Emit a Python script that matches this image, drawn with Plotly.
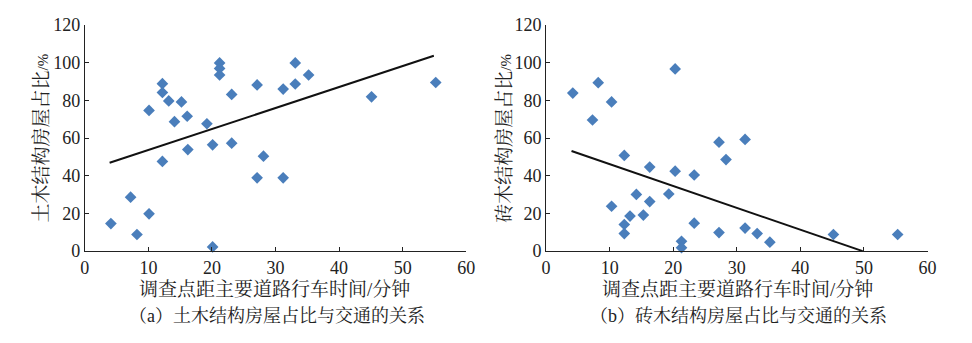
import plotly.graph_objects as go

# Panel (a): 土木结构
a_x = [4.1, 7.2, 8.2, 10.1, 10.1, 12.2, 12.2, 12.2, 13.2, 14.1, 15.2, 16.1, 16.2, 19.2,
       20.1, 20.1, 21.2, 21.2, 21.2, 23.1, 23.1, 27.1, 27.1, 28.1, 31.2, 31.2, 33.1, 33.1,
       35.2, 45.1, 55.2]
a_y = [14.6, 28.6, 8.8, 19.8, 74.7, 88.9, 84.2, 47.6, 79.7, 68.7, 79.2, 71.6, 53.9, 67.6,
       56.4, 2.2, 99.9, 97.0, 93.5, 83.2, 57.3, 88.2, 38.9, 50.4, 86.0, 38.9, 99.9, 88.7,
       93.5, 81.9, 89.5]
a_trend_x = [3.9, 54.9]
a_trend_y = [46.9, 103.7]

# Panel (b): 砖木结构
b_x = [4.2, 7.3, 8.2, 10.3, 10.3, 12.3, 12.3, 12.3, 13.2, 14.2, 15.3, 16.3, 16.3, 19.3,
       20.3, 20.3, 21.3, 21.3, 21.3, 23.3, 23.3, 27.2, 27.2, 28.3, 31.3, 31.3, 33.2, 33.2,
       35.2, 45.2, 55.3]
b_y = [83.9, 69.6, 89.4, 79.2, 23.8, 50.8, 14.1, 9.3, 18.6, 30.1, 19.1, 44.6, 26.3, 30.3,
       96.7, 42.4, 5.2, 1.8, -1.2, 40.4, 14.8, 57.8, 9.8, 48.6, 59.3, 12.2, 9.3, -0.8,
       4.7, 8.8, 8.8]
b_trend_x = [4.0, 49.8]
b_trend_y = [53.1, 0.0]

x_ticks = [0, 10, 20, 30, 40, 50, 60]
y_ticks = [0, 20, 40, 60, 80, 100, 120]

x_title = "调查点距主要道路行车时间/分钟"
a_ytitle = "土木结构房屋占比<span style='font-size:15px'>/%</span>"
b_ytitle = "砖木结构房屋占比<span style='font-size:15px'>/%</span>"
a_caption = "（a）土木结构房屋占比与交通的关系"
b_caption = "（b）砖木结构房屋占比与交通的关系"

FONT = "Times New Roman, Liberation Serif, Noto Serif CJK SC, Noto Sans CJK SC, serif"
MARK = "#4a7ebb"
TXT = "#222222"
W, H = 972, 343
AX_A = (81, 468)
AX_B = (549, 936)

fig = go.Figure()
fig.add_trace(go.Scatter(x=a_x, y=a_y, mode="markers", xaxis="x", yaxis="y",
                         marker=dict(symbol="diamond", size=9, color=MARK), cliponaxis=False))
fig.add_trace(go.Scatter(x=a_trend_x, y=a_trend_y, mode="lines", xaxis="x", yaxis="y",
                         line=dict(color="#111111", width=2), cliponaxis=False))
fig.add_trace(go.Scatter(x=b_x, y=b_y, mode="markers", xaxis="x2", yaxis="y2",
                         marker=dict(symbol="diamond", size=9, color=MARK), cliponaxis=False))
fig.add_trace(go.Scatter(x=b_trend_x, y=b_trend_y, mode="lines", xaxis="x2", yaxis="y2",
                         line=dict(color="#111111", width=2), cliponaxis=False))

ytop = 1 - 16 / H
ybot = 1 - 256 / H

def xax(dom, anchor):
    return dict(domain=dom, range=[0, 60], tickvals=x_ticks, anchor=anchor, showline=True,
                linecolor=TXT, linewidth=1, ticks="inside", ticklen=4, tickcolor=TXT,
                showgrid=False, zeroline=False, tickfont=dict(family=FONT, size=18, color=TXT))

def yax(anchor):
    return dict(domain=[ybot, ytop], range=[0, 120], tickvals=y_ticks, anchor=anchor, showline=True,
                linecolor=TXT, linewidth=1, ticks="inside", ticklen=4, tickcolor=TXT,
                showgrid=False, zeroline=False, tickfont=dict(family=FONT, size=18, color=TXT))

def ann(text, xpx, ypx, size=19, angle=0):
    return dict(text=text, x=xpx / W, y=1 - ypx / H, xref="paper", yref="paper", showarrow=False,
                textangle=angle, font=dict(family=FONT, size=size, color=TXT),
                xanchor="center", yanchor="middle")

fig.update_layout(
    width=W, height=H, margin=dict(l=0, r=0, t=0, b=0),
    font=dict(family=FONT, color=TXT),
    paper_bgcolor="white", plot_bgcolor="white", showlegend=False,
    xaxis=xax([AX_A[0] / W, AX_A[1] / W], "y"), yaxis=yax("x"),
    xaxis2=xax([AX_B[0] / W, AX_B[1] / W], "y2"), yaxis2=yax("x2"),
    annotations=[
        ann(x_title, 273, 297, size=19),
        ann(x_title, 743, 297, size=19),
        ann(a_caption, 276, 325, size=18),
        ann(b_caption, 744, 325, size=18),
        ann(a_ytitle, 37, 136, size=19, angle=-90),
        ann(b_ytitle, 506, 136, size=19, angle=-90),
    ],
)

fig.write_html("out.html")
